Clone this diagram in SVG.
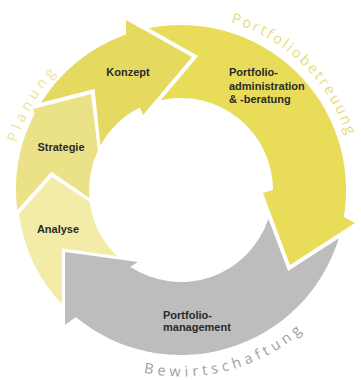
<svg xmlns="http://www.w3.org/2000/svg" width="361" height="380" viewBox="0 0 361 380">
  <defs>
    <style>
      .lbl { font-family: "Liberation Sans", Arial, sans-serif; font-weight: bold; font-size: 11px; fill: #2a2a2a; }
      .phase { font-family: "Open Sans", "Noto Sans", sans-serif; font-weight: normal; font-size: 14.5px; }
      .seg { stroke: none; }
    </style>
    <path id="arcPlanung" d="M15.8,145.7 A171,171 0 0 1 122.5,29.3"/>
    <path id="arcBetreuung" d="M226.3,21 A174,174 0 0 1 355,190"/>
    <path id="arcBewirt" d="M135.9,371 A186.5,186.5 0 0 0 323.9,309.9"/>
  </defs>
  <rect width="361" height="380" fill="#ffffff"/>

  <g id="analyse">
    <path class="seg" fill="#f2eca8" d="M62,248.6 L62,304.3 A165,165 0 0 1 19,214 L52,177 L89.8,202 A92,92 0 0 0 117,256.1 Z"/>
    <text class="lbl" x="58" y="233" text-anchor="middle">Analyse</text>
  </g>

  <g id="strategie">
    <path class="seg" fill="#ebe288" d="M51.4,171.7 L17.2,210 A165,165 0 0 1 34.6,113.8 L33,109 L91,94 L98,150.4 A92,92 0 0 0 89.4,198.1 Z"/>
    <text class="lbl" x="61" y="151" text-anchor="middle">Strategie</text>
  </g>

  <g id="konzept">
    <path class="seg" fill="#e5d960" d="M94.5,89 L40.9,102.8 A165,165 0 0 1 126,34.5 L126,20 L192,57 L143,115 L140,107.6 A92,92 0 0 0 100.5,145.4 Z"/>
    <text class="lbl" x="128" y="76" text-anchor="middle">Konzept</text>
  </g>

  <g id="portfolioadministration">
    <path class="seg" fill="#e8dc58" d="M198.2,55.9 L148.8,28.2 A165,165 0 0 1 343.8,217 L355,223 L290,265 L263,193 L273,190 A92,92 0 0 0 160.7,100.3 Z"/>
    <text class="lbl" x="229" y="76">Portfolio-</text>
    <text class="lbl" x="229" y="89.5">administration</text>
    <text class="lbl" x="229" y="103">&amp; -beratung</text>
  </g>

  <g id="portfoliomanagement">
    <path class="seg" fill="#bdbdbd" d="M288.1,271.1 L268.4,218.7 A92,92 0 0 1 130.2,266.7 L138,262 L65,252 L65,325 L75.8,317.1 A165,165 0 0 0 338.8,238.3 Z"/>
    <text class="lbl" x="163" y="319">Portfolio-</text>
    <text class="lbl" x="163" y="331">management</text>
  </g>

  <g id="phases">
    <text class="phase" fill="#ebe39c" letter-spacing="4.2"><textPath href="#arcPlanung" startOffset="3">Planung</textPath></text>
    <text class="phase" fill="#e6dc78" letter-spacing="2.3"><textPath href="#arcBetreuung" startOffset="4.6">Portfoliobetreuung</textPath></text>
    <text class="phase" fill="#a0a0a0" letter-spacing="4.2"><textPath href="#arcBewirt" startOffset="8">Bewirtschaftung</textPath></text>
  </g>
</svg>
